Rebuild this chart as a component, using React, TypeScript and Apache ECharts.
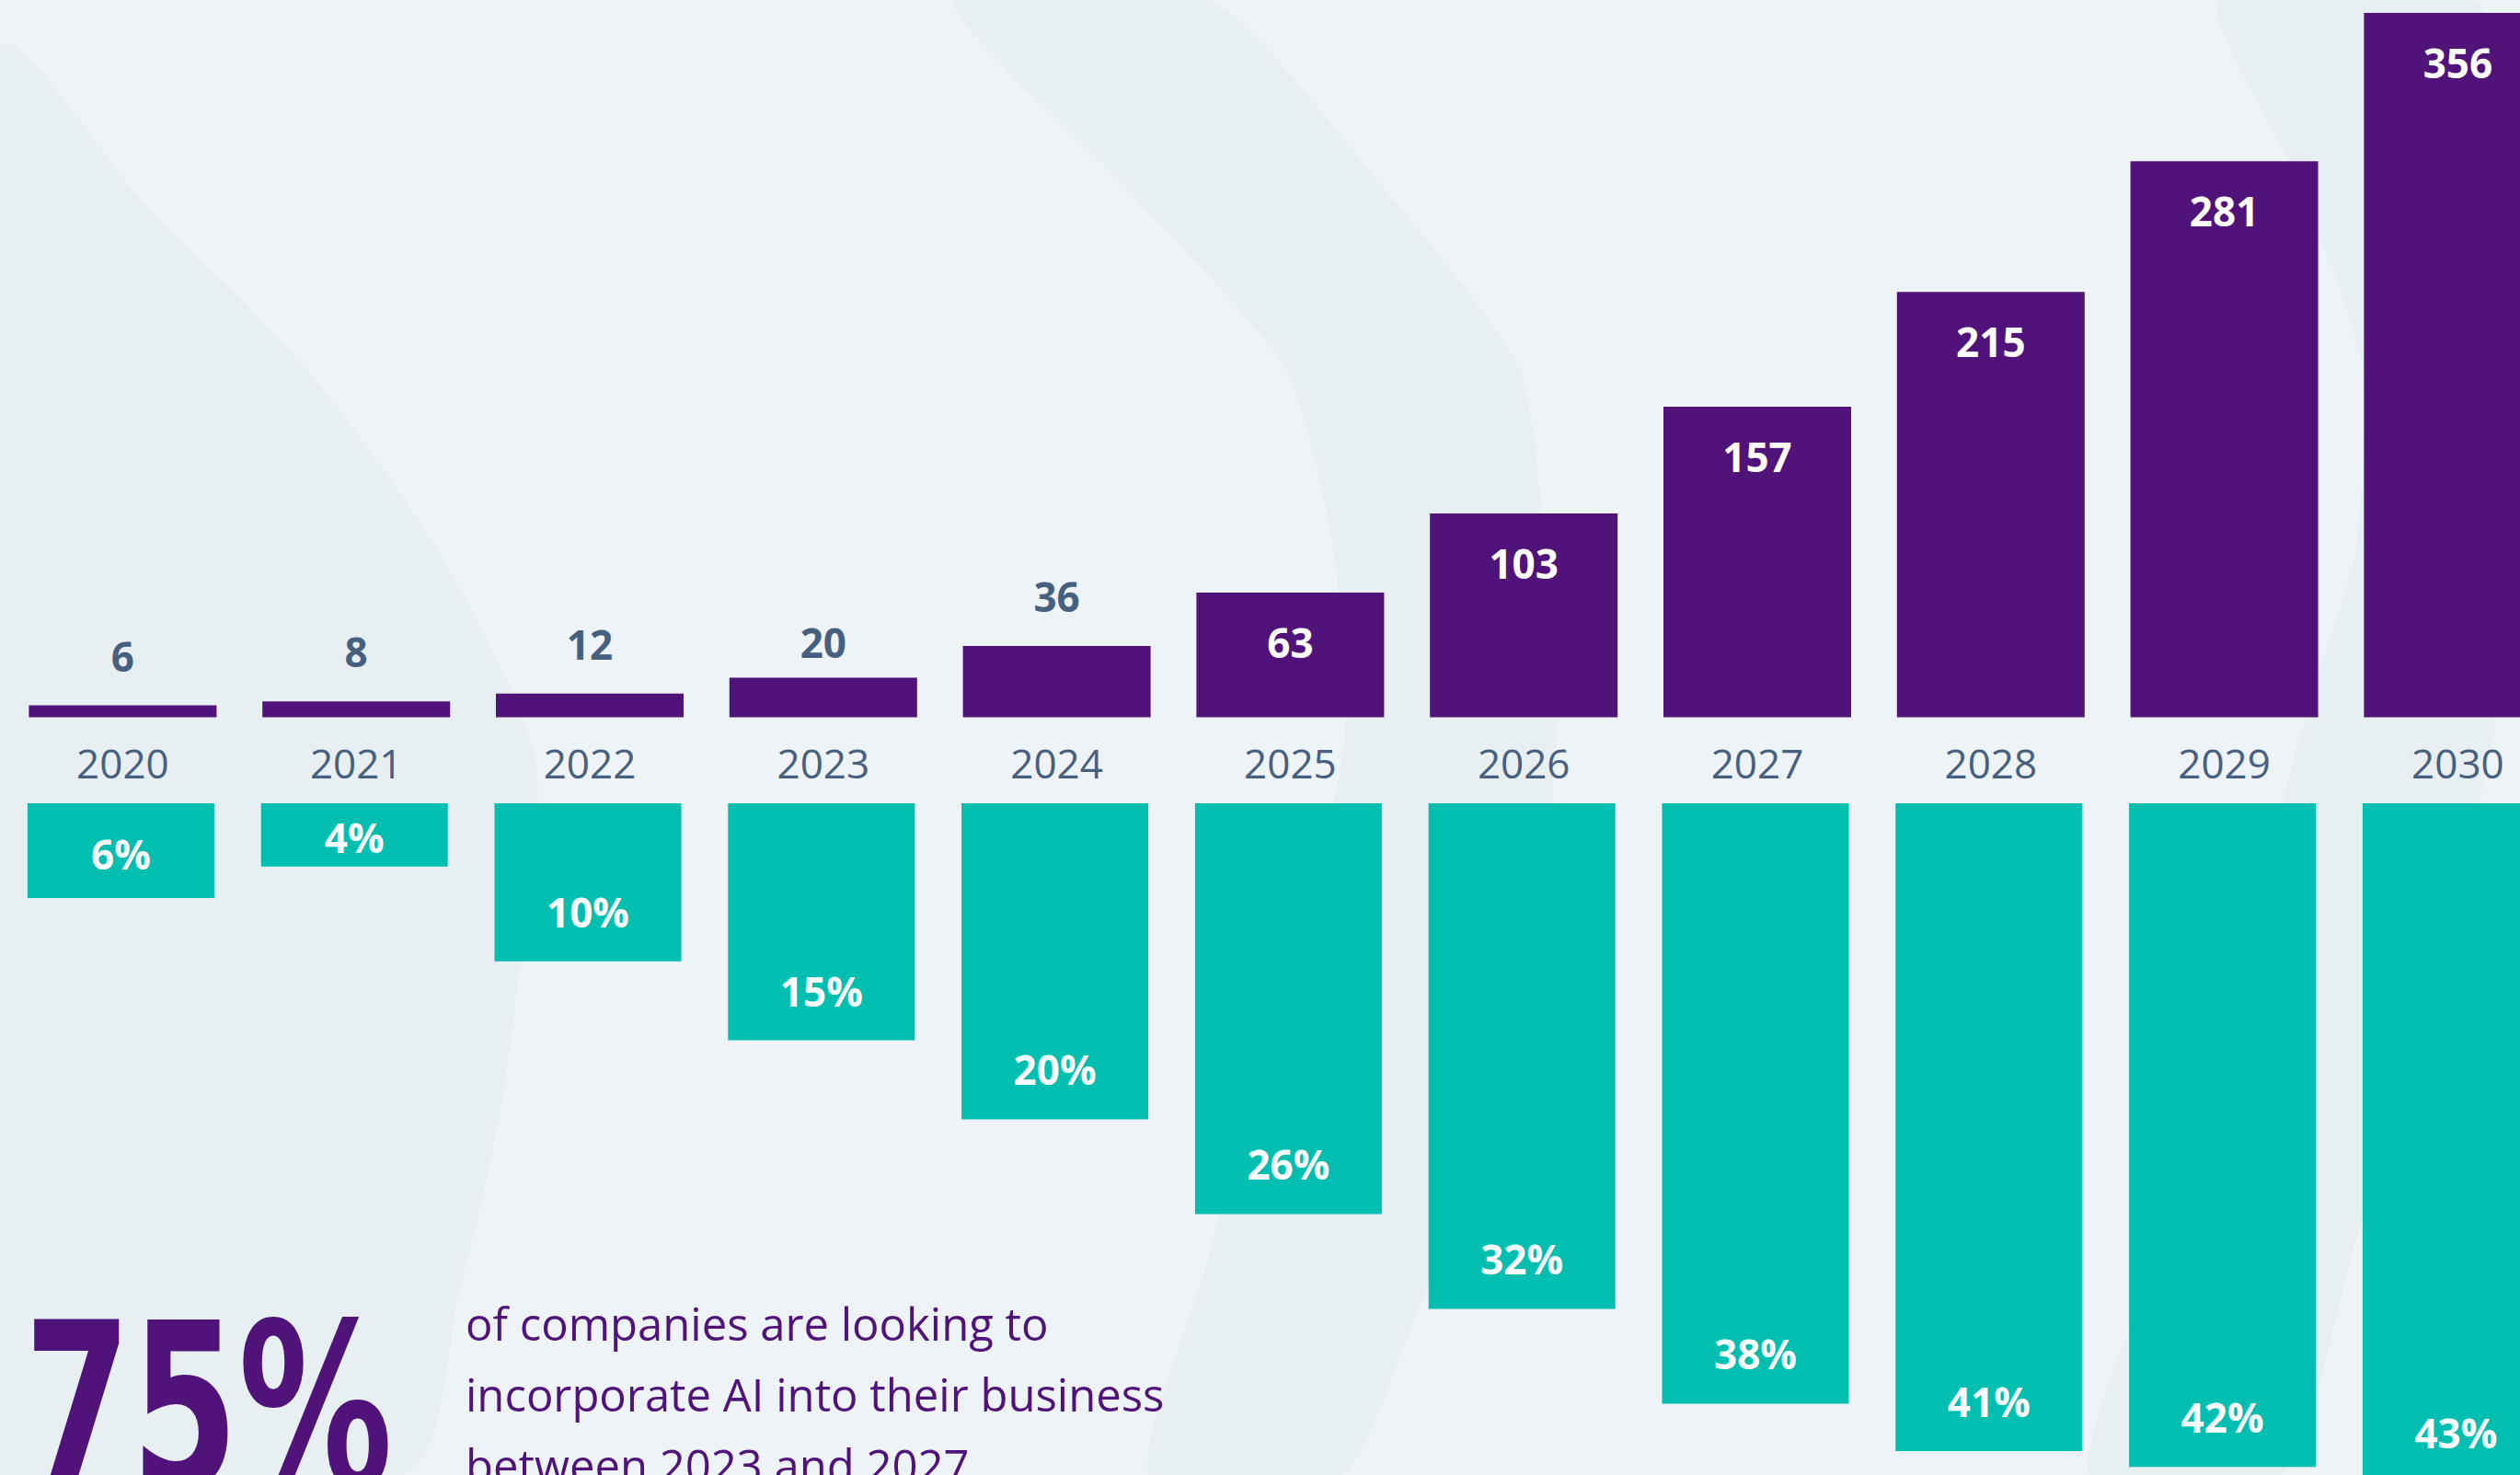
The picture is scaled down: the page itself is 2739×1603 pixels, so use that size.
import React, { useEffect, useRef } from 'react';
import * as echarts from 'echarts';

const years = ['2020', '2021', '2022', '2023', '2024', '2025', '2026', '2027', '2028', '2029', '2030'];
const marketValues = [6, 8, 12, 20, 36, 63, 103, 157, 215, 281, 356];
const adoptionPct = [6, 4, 10, 15, 20, 26, 32, 38, 41, 42, 43];
const statValue = '75%';
const statLines = ['of companies are looking to', 'incorporate AI into their business', 'between 2023 and 2027'];

const PURPLE = '#4f1379';
const TEAL = '#00bfb0';
const SLATE = '#47607f';
const BG = '#eef3f7';
const BG_DARK = '#e7eff3';

export default function App() {
  const ref = useRef<HTMLDivElement>(null);
  useEffect(() => {
    const chart = echarts.init(ref.current!, null, { renderer: 'svg' });

    const topData = marketValues.map((v, i) => ({
      value: v,
      label: v < 50
        ? { position: 'top', color: SLATE, distance: i === 3 ? 17 : 32 }
        : undefined,
    }));
    const bottomData = adoptionPct.map((v) => ({
      value: v,
      label: v < 8 ? { position: 'inside', offset: [0, 3] } : undefined,
    }));

    const option: any = {
      animation: false,
      backgroundColor: BG,
      grid: [
        { left: 6.5, top: 5.5, width: 2791.8, height: 774, outerBoundsMode: 'none', containLabel: false },
        { left: 4.5, top: 873, width: 2791.8, height: 858.5, outerBoundsMode: 'none', containLabel: false },
      ],
      xAxis: [
        {
          type: 'category', gridIndex: 0, data: years,
          axisLine: { show: false }, axisTick: { show: false }, splitLine: { show: false },
          axisLabel: { margin: 27, fontSize: 44, color: SLATE, fontFamily: 'Open Sans', hideOverlap: false },
        },
        { type: 'category', gridIndex: 1, data: years, show: false },
      ],
      yAxis: [
        { type: 'value', gridIndex: 0, min: 0, max: 360, show: false, splitLine: { show: false } },
        { type: 'value', gridIndex: 1, min: 0, max: 50, inverse: true, show: false, splitLine: { show: false } },
      ],
      graphic: [
        {
          type: 'polygon', z: -10, silent: true,
          shape: { points: [[0, 57], [160, 225], [332, 400], [470, 590], [560, 760], [585, 850], [570, 1000], [545, 1200], [500, 1400], [437, 1603], [0, 1603]], smooth: 0.3 },
          style: { fill: BG_DARK },
        },
        {
          type: 'polygon', z: -10, silent: true,
          shape: {
            points: [[1036, 0], [1220, 200], [1397, 400], [1450, 600], [1462, 800], [1420, 1000], [1360, 1200], [1310, 1380], [1249, 1603],
              [1458, 1603], [1537, 1433], [1625, 1200], [1675, 1000], [1691, 800], [1680, 600], [1651, 400], [1500, 200], [1315, 0]],
            smooth: 0.2,
          },
          style: { fill: BG_DARK },
        },
        {
          type: 'polygon', z: -10, silent: true,
          shape: {
            points: [[2411, 0], [2500, 200], [2568, 400], [2560, 600], [2500, 800], [2420, 1100], [2350, 1350], [2271, 1603],
              [2480, 1603], [2560, 1350], [2640, 1100], [2710, 800], [2745, 600], [2760, 400], [2745, 200], [2690, 0]],
            smooth: 0.2,
          },
          style: { fill: BG_DARK },
        },
        {
          type: 'text', x: 26, y: 1529, z: 10, scaleX: 0.67,
          style: {
            text: statValue, fill: PURPLE, fontSize: 250, fontWeight: 'bold',
            fontFamily: '"DejaVu Sans"',
            align: 'left', verticalAlign: 'middle', textAlign: 'left', textVerticalAlign: 'middle',
          },
        },
        {
          type: 'text', x: 506, y: 1399, z: 10,
          style: {
            text: statLines.join('\n'), fill: PURPLE, fontSize: 49, fontFamily: 'Open Sans',
            lineHeight: 77, align: 'left', verticalAlign: 'top', textAlign: 'left', textVerticalAlign: 'top',
          },
        },
      ],
      series: [
        {
          type: 'bar', xAxisIndex: 0, yAxisIndex: 0, barWidth: 204, data: topData,
          itemStyle: { color: PURPLE },
          label: {
            show: true, position: 'insideTop', distance: 32, color: '#ffffff',
            fontSize: 44, fontWeight: 'bold', fontFamily: 'Open Sans',
          },
        },
        {
          type: 'bar', xAxisIndex: 1, yAxisIndex: 1, barWidth: 203, data: bottomData,
          itemStyle: { color: TEAL },
          label: {
            show: true, position: 'insideBottom', distance: 32, color: '#ffffff', formatter: '{c}%',
            fontSize: 44, fontWeight: 'bold', fontFamily: 'Open Sans',
          },
        },
      ],
    };
    chart.setOption(option);
    return () => chart.dispose();
  }, []);
  return (
    <div
      ref={ref}
      style={{ position: 'fixed', left: 0, top: 0, width: 2739, height: 1603, overflow: 'hidden' }}
    />
  );
}
